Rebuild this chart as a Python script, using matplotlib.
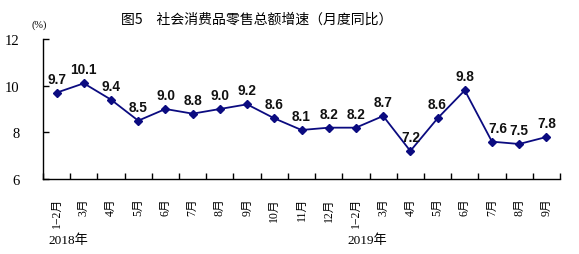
import matplotlib
matplotlib.use("Agg")
import matplotlib.pyplot as plt
from matplotlib.transforms import blended_transform_factory
from matplotlib.ticker import FixedLocator

plt.rcParams['font.family'] = ['Liberation Serif', 'Noto Sans CJK SC', 'DejaVu Sans']

categories = ["1−2月", "3月", "4月", "5月", "6月", "7月", "8月", "9月", "10月", "11月", "12月",
              "1−2月", "3月", "4月", "5月", "6月", "7月", "8月", "9月"]
values = [9.7, 10.1, 9.4, 8.5, 9.0, 8.8, 9.0, 9.2, 8.6, 8.1, 8.2,
          8.2, 8.7, 7.2, 8.6, 9.8, 7.6, 7.5, 7.8]
value_labels = ["9.7", "10.1", "9.4", "8.5", "9.0", "8.8", "9.0", "9.2", "8.6", "8.1", "8.2",
                "8.2", "8.7", "7.2", "8.6", "9.8", "7.6", "7.5", "7.8"]
years = ["2018年", "2019年"]
year_start_idx = [0, 11]
y_ticks = [6, 8, 10, 12]
title = "图5　社会消费品零售总额增速（月度同比）"

fig = plt.figure(figsize=(5.79, 2.55), dpi=100)
ax = fig.add_axes([43/579, 1-180/255, (560-43)/579, (180-40)/255])

x = list(range(len(values)))
color = "#0b0b80"
ax.plot(x, values, color=color, lw=1.3, marker="D", ms=4.5, mfc=color, mec=color, zorder=3)

for xi, v, lab in zip(x, values, value_labels):
    dx = 0
    if xi == 16:
        dx = 4
    ax.annotate(lab, (xi, v), xytext=(dx, 5), textcoords="offset points",
                ha="center", va="bottom", fontsize=9.8, fontweight="bold",
                family=["Liberation Sans", "DejaVu Sans"], color="#111111")

ax.set_xlim(-0.5, len(values) - 0.5)
ax.set_ylim(6, 12)

for s in ["top", "right"]:
    ax.spines[s].set_visible(False)
for s in ["left", "bottom"]:
    ax.spines[s].set_linewidth(1.0)
    ax.spines[s].set_color("black")

ax.set_yticks(y_ticks)
ax.set_yticklabels([str(t) for t in y_ticks], fontsize=10.5)
ax.tick_params(axis="y", direction="in", length=4, width=1, pad=17)

ax.set_xticks(x)
ax.set_xticklabels(categories, rotation=90, fontsize=8.5, va="top", ha="center")
ax.tick_params(axis="x", which="major", length=0, pad=13)
ax.xaxis.set_minor_locator(FixedLocator([i + 0.5 for i in range(-1, len(values))]))
ax.tick_params(axis="x", which="minor", direction="in", length=4, width=1)

trans = blended_transform_factory(ax.transData, fig.transFigure)
for yr, idx in zip(years, year_start_idx):
    ax.text(idx - 0.3, 1 - 241/255, yr, transform=trans, ha="left", va="center", fontsize=9.5)

fig.text(257/579, 1 - 20/255, title, ha="center", va="center", fontsize=10,
         family=["Noto Sans CJK SC", "DejaVu Sans"])
fig.text(39/579, 1 - 25/255, "(%)", ha="center", va="center", fontsize=7.5)

fig.savefig("out.png", dpi=100)
